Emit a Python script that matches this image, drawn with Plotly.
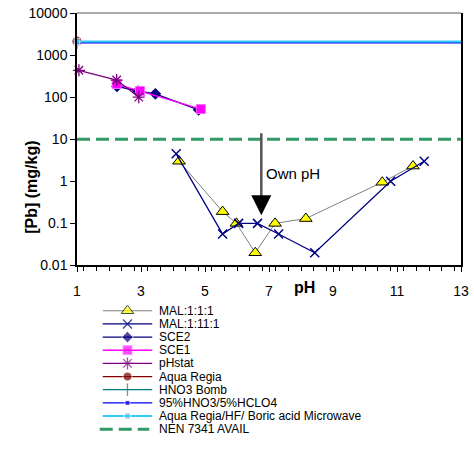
import plotly.graph_objects as go
import math

# ---- data ----
mal111_x = [4.19, 5.55, 5.98, 6.57, 7.19, 8.15, 10.54, 11.5]
mal111_y = [3.0, 0.19, 0.10, 0.02, 0.10, 0.13, 0.95, 2.3]
mal1111_x = [4.1, 5.55, 6.05, 6.64, 7.3, 8.43, 10.8, 11.85]
mal1111_y = [4.5, 0.056, 0.10, 0.10, 0.056, 0.02, 1.0, 3.0]
sce2_x = [2.25, 2.9, 3.45, 4.8]
sce2_y = [180, 140, 120, 50]
sce1_x = [2.24, 2.97, 4.87]
sce1_y = [205, 140, 52]
phstat_x = [1.06, 2.24, 2.93]
phstat_y = [435, 255, 100]
aqua_x = [1.0]
aqua_y = [2100]
hno3_x = [1.0, 13.0]
hno3_y = [2000, 2000]
hclo4_x = [1.0, 13.0]
hclo4_y = [1950, 1950]
aquahf_x = [1.0, 13.0]
aquahf_y = [2100, 2100]
nen_x = [1.0, 13.0]
nen_y = [10, 10]

x_ticks = [1, 3, 5, 7, 9, 11, 13]
y_ticks = [0.01, 0.1, 1, 10, 100, 1000, 10000]
y_labels = ["0.01", "0.1", "1", "10", "100", "1000", "10000"]

own_ph_x = 6.76
own_ph_top = 15
own_ph_tip = 0.155
own_ph_label_y = 1.5

FONT = "Liberation Sans, Arial, sans-serif"

# ---- series styles ----
series = [
    dict(name="MAL:1:1:1", x=mal111_x, y=mal111_y, mode="lines+markers",
         line=dict(color="#808080", width=1),
         marker=dict(symbol="triangle-up", size=11, color="#FFFF00",
                     line=dict(color="black", width=1))),
    dict(name="MAL:1:11:1", x=mal1111_x, y=mal1111_y, mode="lines+markers",
         line=dict(color="#000080", width=1.3),
         marker=dict(symbol="x-thin", size=9, color="#000080",
                     line=dict(color="#000080", width=1.5))),
    dict(name="SCE2", x=sce2_x, y=sce2_y, mode="lines+markers",
         line=dict(color="#000080", width=1.3),
         marker=dict(symbol="diamond", size=9, color="#000080")),
    dict(name="SCE1", x=sce1_x, y=sce1_y, mode="lines+markers",
         line=dict(color="#FF00FF", width=1.3),
         marker=dict(symbol="square", size=9, color="#FF00FF",
                     line=dict(color="#FF66FF", width=1))),
    dict(name="pHstat", x=phstat_x, y=phstat_y, mode="lines+markers",
         line=dict(color="#800080", width=1.3),
         marker=dict(symbol="asterisk-open", size=10,
                     line=dict(color="#800080", width=1.3))),
    dict(name="Aqua Regia", x=aqua_x, y=aqua_y, mode="lines+markers",
         line=dict(color="#800000", width=1.3),
         marker=dict(symbol="circle", size=9, color="#800000")),
    dict(name="HNO3 Bomb", x=hno3_x, y=hno3_y, mode="lines+markers",
         line=dict(color="#008080", width=1.3),
         marker=dict(symbol="line-ns-open", size=9,
                     line=dict(color="#008080", width=1.3))),
    dict(name="95%HNO3/5%HCLO4", x=hclo4_x, y=hclo4_y, mode="lines+markers",
         line=dict(color="#0000FF", width=1.3),
         marker=dict(symbol="square", size=5, color="#0000FF")),
    dict(name="Aqua Regia/HF/ Boric acid Microwave", x=aquahf_x, y=aquahf_y,
         mode="lines+markers",
         line=dict(color="#33CCFF", width=2),
         marker=dict(symbol="square", size=6, color="#33CCFF")),
    dict(name="NEN 7341 AVAIL", x=nen_x, y=nen_y, mode="lines",
         line=dict(color="#339966", width=3, dash="13px,6px"), marker=dict()),
]

fig = go.Figure()
for s in series:
    n = len(s["x"])
    mk = dict(s["marker"])
    if s["name"] in ("HNO3 Bomb", "95%HNO3/5%HCLO4", "Aqua Regia/HF/ Boric acid Microwave"):
        mk["size"] = [mk["size"]] + [0] * (n - 1)
    fig.add_trace(go.Scatter(x=s["x"], y=s["y"], name=s["name"], mode=s["mode"],
                             line=s["line"], marker=mk, cliponaxis=False,
                             showlegend=False, xaxis="x", yaxis="y"))

# ---- custom legend (compact rows) drawn on a hidden helper axis ----
row0, row_gap = 315.5, 13.5
for i, s in enumerate(series):
    yy = row0 + row_gap * i
    if s["mode"] == "lines":
        fig.add_trace(go.Scatter(x=[100, 150], y=[yy, yy], mode="lines", line=s["line"],
                                 showlegend=False, hoverinfo="skip",
                                 xaxis="x2", yaxis="y2"))
    else:
        fig.add_trace(go.Scatter(x=[103, 128, 153], y=[yy, yy, yy], mode="lines+markers",
                                 line=s["line"],
                                 marker=dict(s["marker"], size=[0, s["marker"]["size"], 0]),
                                 showlegend=False, hoverinfo="skip",
                                 xaxis="x2", yaxis="y2"))
    fig.add_annotation(x=158, y=yy, xref="x2", yref="y2", text=s["name"],
                       showarrow=False, xanchor="left", yanchor="middle",
                       font=dict(size=12, family=FONT, color="black"))

# ---- "Own pH" arrow ----
fig.add_annotation(x=own_ph_x, y=math.log10(own_ph_tip), ax=own_ph_x,
                   ay=math.log10(own_ph_top), xref="x", yref="y", axref="x", ayref="y",
                   text="", showarrow=True, arrowhead=0, arrowwidth=2.5,
                   arrowcolor="#555555", standoff=6)
fig.add_annotation(x=own_ph_x, y=math.log10(own_ph_tip), xref="x", yref="y",
                   ax=0, ay=-12, text="", showarrow=True, arrowhead=2,
                   arrowsize=1.6, arrowwidth=2.5, arrowcolor="black")
fig.add_annotation(x=6.85, y=math.log10(own_ph_label_y), xref="x", yref="y",
                   text="Own pH", showarrow=False, xanchor="left", yanchor="middle",
                   font=dict(size=15, color="black", family=FONT))

# axis titles
fig.add_annotation(x=(21 - 77) / 388, y=(444 - 139.5) / 434, xref="paper", yref="paper",
                   text="<b>[Pb] (mg/kg)</b>", textangle=-90, showarrow=False,
                   font=dict(size=16, family=FONT, color="black"))
fig.add_annotation(x=(307 - 77) / 388, y=(444 - 302) / 434, xref="paper", yref="paper",
                   text="<b>pH</b>", showarrow=False,
                   font=dict(size=16, family=FONT, color="black"))

MAIN_BOTTOM = (444 - 269) / 434

# top border (gray)
fig.add_shape(type="line", xref="paper", yref="paper", x0=0, x1=1, y0=1, y1=1,
              line=dict(color="#909090", width=1.5))

fig.update_layout(
    xaxis=dict(type="linear", range=[1, 13], tickvals=x_ticks, domain=[0, 1],
               anchor="y", ticks="outside", ticklen=5, tickcolor="black",
               showline=True, linecolor="black", linewidth=1.5,
               showgrid=False, zeroline=False, ticklabelstandoff=7,
               minor=dict(dtick=0.4, ticks="outside", ticklen=4, tickcolor="black"),
               tickfont=dict(size=14, family=FONT, color="black")),
    yaxis=dict(type="log", range=[-2, 4], tickvals=y_ticks, ticktext=y_labels,
               domain=[MAIN_BOTTOM, 1], anchor="x",
               ticks="outside", ticklen=5, tickcolor="black",
               showline=True, linecolor="black", linewidth=1.5, mirror=True,
               showgrid=False, zeroline=False,
               tickfont=dict(size=14, family=FONT, color="black")),
    xaxis2=dict(range=[77, 465], domain=[0, 1], anchor="y2", visible=False,
                fixedrange=True),
    yaxis2=dict(range=[444, 269], domain=[0, MAIN_BOTTOM], anchor="x2", visible=False,
                fixedrange=True),
    width=474, height=449,
    margin=dict(l=77, r=9, t=10, b=5),
    paper_bgcolor="white", plot_bgcolor="white",
    font=dict(family=FONT, size=13, color="black"),
    showlegend=False,
)

fig.write_html("out.html", config={"displayModeBar": False},
               post_script="document.body.style.margin='0px';document.body.style.overflow='hidden';")
